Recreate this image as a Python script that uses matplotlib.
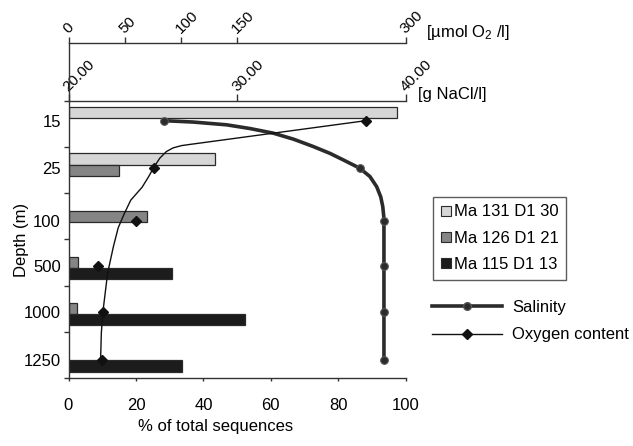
import numpy as np
import matplotlib
matplotlib.use("Agg")
import matplotlib.pyplot as plt
from matplotlib.lines import Line2D

plt.rcParams["font.family"] = ["Liberation Sans", "DejaVu Sans"]
plt.rcParams["mathtext.fontset"] = "custom"
plt.rcParams["mathtext.rm"] = "Liberation Sans"
plt.rcParams["mathtext.default"] = "regular"

# --- Daten ---
depths = ["15", "25", "100", "500", "1000", "1250"]
series = ["Ma 131 D1 30", "Ma 126 D1 21", "Ma 115 D1 13"]
ma131 = [97.3, 43.4, 0, 0, 0, 0]          # % of total sequences
ma126 = [0, 15.1, 23.4, 2.7, 2.4, 0]
ma115 = [0, 0, 0, 30.8, 52.3, 33.6]

# Messpunkte (Lage auf der Tiefenachse in Kategorie-Einheiten)
point_pos = [-0.07, 0.95, 2.10, 3.08, 4.07, 5.11]
salinity = [25.66, 37.29, 38.71, 38.71, 38.71, 38.71]   # g NaCl/l
oxygen = [264.6, 76.4, 60.0, 26.0, 31.0, 29.5]          # µmol O2/l

# geglaettete Kurven, wie in der Vorlage gezeichnet
sal_curve_pos = [-0.07, -0.04, 0.02, 0.10, 0.20, 0.33, 0.49, 0.64, 0.78, 0.89, 0.96,
                 1.14, 1.36, 1.58, 1.79, 2.01, 2.10, 3.08, 4.07, 5.11]
sal_curve_val = [25.66, 27.4, 29.38, 30.76, 32.14, 33.34, 34.52, 35.52, 36.30, 36.90, 37.28,
                 37.88, 38.28, 38.52, 38.64, 38.70, 38.71, 38.71, 38.71, 38.71]
oxy_curve_pos = [-0.07, 0.45, 0.47, 0.52, 0.60, 0.74, 0.92, 1.15, 1.37, 1.65, 1.95, 2.25,
                 2.66, 3.23, 3.81, 4.09, 4.53, 5.07]
oxy_curve_val = [264.6, 106.3, 100.5, 93.0, 87.0, 81.3, 76.4, 71.1, 65.5, 55.4, 49.5, 44.2,
                 39.9, 34.8, 31.9, 30.5, 29.2, 28.6]

bar_colors = ["#d6d6d6", "#858585", "#1c1c1c"]
edge = "#2a2a2a"
spine_c = "#333333"

W, H = 633, 446
fig = plt.figure(figsize=(W / 100, H / 100), dpi=100)
x0, x1, ytop, ybot = 68.5, 405.7, 100.8, 378.0
ax = fig.add_axes([x0 / W, 1 - ybot / H, (x1 - x0) / W, (ybot - ytop) / H])

idx = np.arange(len(depths))
bh = 0.24
for vals, off, c, lab in zip([ma131, ma126, ma115], [-bh, 0, bh], bar_colors, series):
    v = np.array(vals, dtype=float)
    m = v > 0
    ax.barh(idx[m] + off, v[m], height=bh, color=c, edgecolor=edge, linewidth=0.9, zorder=2)

ax.set_xlim(0, 100)
ax.set_ylim(5.5, -0.5)
ax.set_xticks([0, 20, 40, 60, 80, 100])
ax.set_yticks(point_pos)
ax.set_yticklabels(depths)
ax.set_yticks(np.arange(-0.5, 6.0, 1.0), minor=True)
ax.tick_params(axis="y", which="major", length=0, pad=5.5, labelsize=12)
ax.tick_params(axis="y", which="minor", length=3.6, width=1, color=spine_c)
ax.tick_params(axis="x", length=2.5, width=1, color=spine_c, pad=12, labelsize=12)
for s in ["top", "right"]:
    ax.spines[s].set_visible(False)
for s in ["left", "bottom"]:
    ax.spines[s].set_color(spine_c)
    ax.spines[s].set_linewidth(1.0)

ax.set_xlabel("% of total sequences", fontsize=12)
ax.xaxis.set_label_coords(0.437, (ybot - 426) / (ybot - ytop))
ax.xaxis.label.set_va("center")
ax.set_ylabel("Depth (m)", fontsize=12)
ax.yaxis.set_label_coords((21.7 - x0) / (x1 - x0), (ybot - 240) / (ybot - ytop))
ax.yaxis.label.set_va("center")


def rotate_top_labels(a):
    for t in a.get_xticklabels():
        t.set_rotation(45)
        t.set_ha("left")
        t.set_va("baseline")
        t.set_rotation_mode("anchor")


# Salinitaet: obere Achse direkt am Diagramm
ax_s = ax.twiny()
ax_s.set_xlim(20, 40)
ax_s.set_xticks([20, 30, 40])
ax_s.set_xticklabels(["20.00", "30.00", "40.00"])
for s in ["bottom", "left", "right"]:
    ax_s.spines[s].set_visible(False)
ax_s.spines["top"].set_color(spine_c)
ax_s.spines["top"].set_linewidth(1.0)
ax_s.tick_params(axis="x", length=5, width=1, color=spine_c, pad=1.5, labelsize=11)
rotate_top_labels(ax_s)
ax_s.plot(sal_curve_val, sal_curve_pos, color="#2b2b2b", lw=2.6, zorder=3,
          solid_capstyle="round", solid_joinstyle="round")
ax_s.plot(salinity, point_pos, ls="none", marker="o", ms=5.5, mfc="#2b2b2b", mec="#555555", mew=0.8, zorder=4)

# Sauerstoff: zweite obere Achse, nach oben versetzt
ax_o = ax.twiny()
ax_o.set_xlim(0, 300)
ax_o.set_xticks([0, 50, 100, 150, 300])
for s in ["bottom", "left", "right"]:
    ax_o.spines[s].set_visible(False)
ax_o.spines["top"].set_position(("outward", (ytop - 42.5) * 0.72))
ax_o.spines["top"].set_color(spine_c)
ax_o.spines["top"].set_linewidth(1.0)
ax_o.tick_params(axis="x", length=4.3, width=1, color=spine_c, pad=1.5, labelsize=11)
rotate_top_labels(ax_o)
ax_o.plot(oxy_curve_val, oxy_curve_pos, color="#111111", lw=1.0, zorder=3, solid_joinstyle="round")
ax_o.plot(oxygen, point_pos, ls="none", marker="D", ms=5.5, color="#111111", zorder=4)

# linke Achse bis zur Sauerstoffachse verlaengern
fig.add_artist(Line2D([x0 / W, x0 / W], [1 - 42.5 / H, 1 - ytop / H],
                      transform=fig.transFigure, color=spine_c, lw=1.0))

fig.text(426 / W, 1 - 33 / H, "[µmol O$_2$ /l]", fontsize=12, ha="left", va="center")
fig.text(418 / W, 1 - 95 / H, "[g NaCl/l]", fontsize=12, ha="left", va="center")

# Legenden
bar_handles = [Line2D([], [], ls="none", marker="s", ms=7, mfc=c, mec=edge, mew=0.8)
               for c in bar_colors]
leg1 = fig.legend(bar_handles, series, loc="upper left", bbox_to_anchor=(433 / W, 1 - 197 / H),
                  frameon=True, fancybox=False, edgecolor=spine_c, fontsize=12,
                  handlelength=0.6, handletextpad=0.2, labelspacing=0.68,
                  borderpad=0.45, borderaxespad=0)
leg1.get_frame().set_linewidth(1.0)

line_handles = [
    Line2D([], [], color="#2b2b2b", lw=2.6, marker="o", ms=5.5, mfc="#2b2b2b", mec="#555555"),
    Line2D([], [], color="#111111", lw=1.0, marker="D", ms=5.5),
]
fig.legend(line_handles, ["Salinity", "Oxygen content"], loc="upper left",
           bbox_to_anchor=(432 / W, 1 - 300 / H), frameon=False, fontsize=12,
           handlelength=4.2, handletextpad=0.6, labelspacing=0.74,
           borderpad=0, borderaxespad=0)

fig.savefig("out.png", dpi=100)
